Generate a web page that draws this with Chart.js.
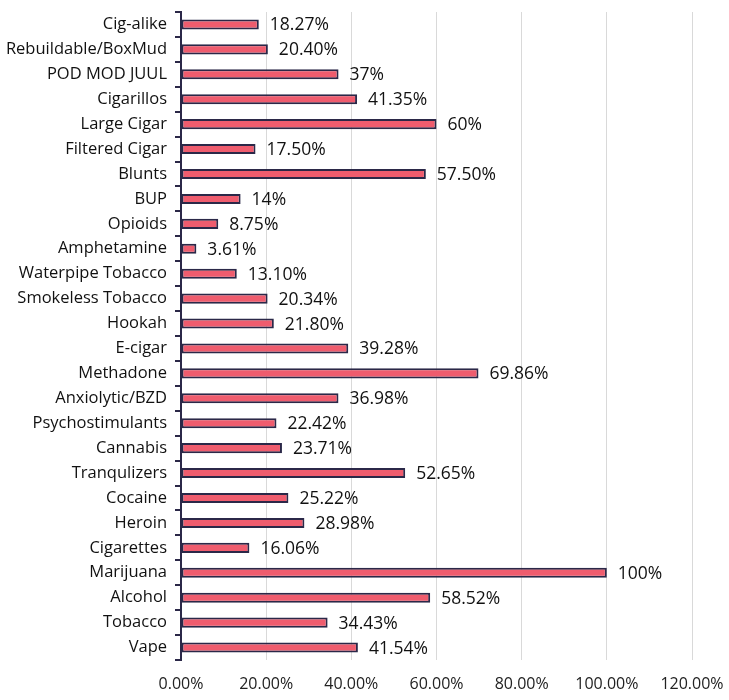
<!DOCTYPE html>
<html>
<head>
<meta charset="utf-8">
<script src="https://cdn.jsdelivr.net/npm/chart.js@4/dist/chart.umd.min.js"></script>
<style>
  html, body { margin: 0; padding: 0; background: #fff; }
  #wrap { width: 729px; height: 700px; }
</style>
</head>
<body>
<div id="wrap"><canvas id="c" width="729" height="700"></canvas></div>
<script>
// categories top to bottom, as in the picture
var categories = ['Cig-alike', 'Rebuildable/BoxMud', 'POD MOD JUUL', 'Cigarillos', 'Large Cigar',
    'Filtered Cigar', 'Blunts', 'BUP', 'Opioids', 'Amphetamine', 'Waterpipe Tobacco',
    'Smokeless Tobacco', 'Hookah', 'E-cigar', 'Methadone', 'Anxiolytic/BZD', 'Psychostimulants',
    'Cannabis', 'Tranqulizers', 'Cocaine', 'Heroin', 'Cigarettes', 'Marijuana', 'Alcohol',
    'Tobacco', 'Vape'];
var values = [18.27, 20.40, 37, 41.35, 60, 17.50, 57.50, 14, 8.75, 3.61, 13.10, 20.34, 21.80,
    39.28, 69.86, 36.98, 22.42, 23.71, 52.65, 25.22, 28.98, 16.06, 100, 58.52, 34.43, 41.54];
var valueLabels = ['18.27%', '20.40%', '37%', '41.35%', '60%', '17.50%', '57.50%', '14%', '8.75%',
    '3.61%', '13.10%', '20.34%', '21.80%', '39.28%', '69.86%', '36.98%', '22.42%', '23.71%',
    '52.65%', '25.22%', '28.98%', '16.06%', '100%', '58.52%', '34.43%', '41.54%'];
var xTicks = [0, 20, 40, 60, 80, 100, 120];

var FONT = '"Open Sans", Lato, sans-serif';

var barLabels = {
    id: 'barLabels',
    afterDatasetsDraw: function(chart) {
        var ctx = chart.ctx;
        var meta = chart.getDatasetMeta(0);
        ctx.save();
        ctx.font = '17.5px ' + FONT;
        ctx.fillStyle = '#111';
        ctx.textAlign = 'left';
        ctx.textBaseline = 'middle';
        meta.data.forEach(function(bar, i) {
            ctx.fillText(valueLabels[i], bar.x + 11, bar.y + 1);
        });
        ctx.restore();
    }
};

var ctx = document.getElementById('c').getContext('2d');
var chart = new Chart(ctx, {
    type: 'bar',
    data: {
        labels: categories,
        datasets: [{
            data: values,
            backgroundColor: '#EF5C6E',
            borderColor: '#2B2848',
            borderWidth: 2,
            borderSkipped: false,
            barPercentage: 0.9,
            categoryPercentage: 0.45
        }]
    },
    plugins: [barLabels],
    options: {
        indexAxis: 'y',
        responsive: false,
        animation: false,
        layout: { padding: { top: 12, left: 0, right: 37, bottom: 0 } },
        plugins: { legend: { display: false }, tooltip: { enabled: false } },
        scales: {
            x: {
                min: 0,
                max: 120,
                afterBuildTicks: function(axis) {
                    axis.ticks = xTicks.map(function(v) { return { value: v }; });
                },
                afterFit: function(axis) {
                    axis.height = 40;
                    axis.paddingLeft = 0;
                    axis.paddingRight = 0;
                },
                ticks: {
                    color: '#222',
                    font: { family: FONT, size: 16 },
                    padding: 15,
                    maxRotation: 0,
                    callback: function(v) { return v.toFixed(2) + '%'; }
                },
                grid: { color: '#d9d9d9', lineWidth: 1, drawTicks: false },
                border: { display: false }
            },
            y: {
                afterFit: function(axis) {
                    axis.width = 181;
                    axis.paddingTop = 0;
                    axis.paddingBottom = 0;
                },
                ticks: {
                    color: '#111',
                    font: { family: FONT, size: 16.5 },
                    padding: 8,
                    autoSkip: false
                },
                grid: {
                    offset: true,
                    drawOnChartArea: false,
                    drawTicks: true,
                    tickLength: 6,
                    color: '#2B2848',
                    lineWidth: 2
                },
                border: { display: true, color: '#2B2848', width: 2 }
            }
        }
    }
});
</script>
</body>
</html>
